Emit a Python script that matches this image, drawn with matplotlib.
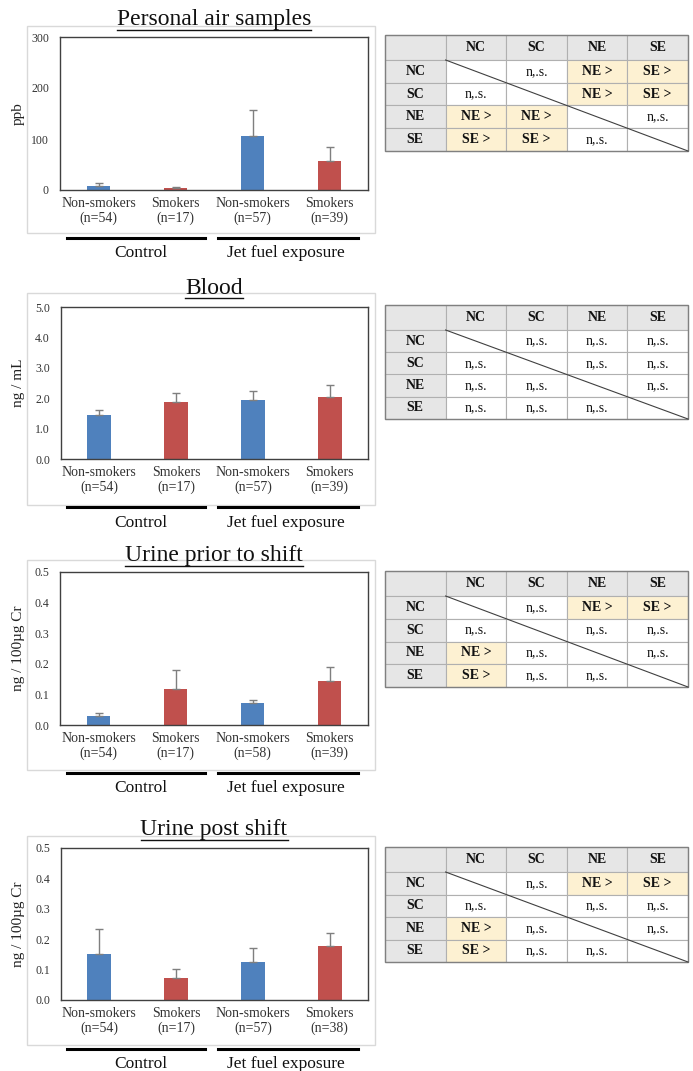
import matplotlib
matplotlib.use("Agg")
import matplotlib.pyplot as plt
from matplotlib.patches import Rectangle
from matplotlib.lines import Line2D

# ---------------- data ----------------
categories = ["Non-smokers", "Smokers", "Non-smokers", "Smokers"]
groups = ["Control", "Jet fuel exposure"]
titles = ["Personal air samples", "Blood", "Urine prior to shift", "Urine post shift"]
ylabels = ["ppb", "ng / mL", "ng / 100\u00b5g Cr", "ng / 100\u00b5g Cr"]

air_n = [54, 17, 57, 39]
air_mean = [8, 4, 106, 56]
air_err = [5, 2, 51, 28]
air_ticks = [0, 100, 200, 300]
air_ticklabels = ["0", "100", "200", "300"]

blood_n = [54, 17, 57, 39]
blood_mean = [1.46, 1.86, 1.95, 2.03]
blood_err = [0.16, 0.31, 0.29, 0.40]
blood_ticks = [0.0, 1.0, 2.0, 3.0, 4.0, 5.0]
blood_ticklabels = ["0.0", "1.0", "2.0", "3.0", "4.0", "5.0"]

urine_pre_n = [54, 17, 58, 39]
urine_pre_mean = [0.031, 0.117, 0.073, 0.143]
urine_pre_err = [0.008, 0.063, 0.009, 0.045]

urine_post_n = [54, 17, 57, 38]
urine_post_mean = [0.150, 0.072, 0.126, 0.176]
urine_post_err = [0.085, 0.030, 0.044, 0.046]

urine_ticks = [0.0, 0.1, 0.2, 0.3, 0.4, 0.5]
urine_ticklabels = ["0.0", "0.1", "0.2", "0.3", "0.4", "0.5"]

table_labels = ["NC", "SC", "NE", "SE"]
air_table = [["", "n,.s.", "NE >", "SE >"],
             ["n,.s.", "", "NE >", "SE >"],
             ["NE >", "NE >", "", "n,.s."],
             ["SE >", "SE >", "n,.s.", ""]]
blood_table = [["", "n,.s.", "n,.s.", "n,.s."],
               ["n,.s.", "", "n,.s.", "n,.s."],
               ["n,.s.", "n,.s.", "", "n,.s."],
               ["n,.s.", "n,.s.", "n,.s.", ""]]
urine_pre_table = [["", "n,.s.", "NE >", "SE >"],
                   ["n,.s.", "", "n,.s.", "n,.s."],
                   ["NE >", "n,.s.", "", "n,.s."],
                   ["SE >", "n,.s.", "n,.s.", ""]]
urine_post_table = [["", "n,.s.", "NE >", "SE >"],
                    ["n,.s.", "", "n,.s.", "n,.s."],
                    ["NE >", "n,.s.", "", "n,.s."],
                    ["SE >", "n,.s.", "n,.s.", ""]]

panels = [
    (air_n, air_mean, air_err, air_ticks, air_ticklabels, air_table),
    (blood_n, blood_mean, blood_err, blood_ticks, blood_ticklabels, blood_table),
    (urine_pre_n, urine_pre_mean, urine_pre_err, urine_ticks, urine_ticklabels, urine_pre_table),
    (urine_post_n, urine_post_mean, urine_post_err, urine_ticks, urine_ticklabels, urine_post_table),
]

# ---------------- layout (pixels) ----------------
W, H = 693, 1071
plt.rcParams['font.family'] = ['Liberation Serif', 'DejaVu Serif']
BLUE, RED = "#4f81bd", "#c0504d"
bar_colors = [BLUE, RED, BLUE, RED]

layout = [
    dict(ax=(60, 37, 368, 190), box=(27, 26, 375, 233), title_y=20, gline=238, glabel=253, table=(385, 35, 688, 151)),
    dict(ax=(61, 307, 368, 459), box=(27, 293, 375, 505), title_y=289, gline=507, glabel=523, table=(385, 305, 688, 419)),
    dict(ax=(60, 572, 368, 725), box=(27, 560, 375, 770), title_y=556, gline=773, glabel=788, table=(385, 571, 688, 687)),
    dict(ax=(61, 848, 368, 1000), box=(27, 836, 375, 1045), title_y=830, gline=1049, glabel=1064, table=(385, 847, 688, 962)),
]

fig = plt.figure(figsize=(W / 100, H / 100), dpi=100)


def fx(x):
    return x / W


def fy(y):
    return 1 - y / H


title_texts = []
for idx, ((n, mean, err, ticks, ticklabels, table), lay) in enumerate(zip(panels, layout)):
    # outer light box
    bx0, by0, bx1, by1 = lay["box"]
    fig.add_artist(Rectangle((fx(bx0), fy(by1)), fx(bx1) - fx(bx0), fy(by0) - fy(by1),
                             transform=fig.transFigure, facecolor="white",
                             edgecolor="#d9d9d9", lw=1.0, zorder=0))
    x0, y0, x1, y1 = lay["ax"]
    ax = fig.add_axes([fx(x0), fy(y1), fx(x1) - fx(x0), fy(y0) - fy(y1)])
    xs = list(range(len(categories)))
    ax.bar(xs, mean, width=0.31, color=bar_colors, zorder=2)
    ax.errorbar(xs, mean, yerr=[[0] * len(err), err], fmt="none",
                ecolor="#7f7f7f", elinewidth=1.0, capsize=3, capthick=1.0, zorder=3)
    ax.set_xlim(-0.5, 3.5)
    ax.set_ylim(ticks[0], ticks[-1])
    ax.set_yticks(ticks)
    ax.set_yticklabels(ticklabels, fontsize=8.5, color="#333333")
    ax.set_xticks(xs)
    ax.set_xticklabels([f"{c}\n(n={k})" for c, k in zip(categories, n)],
                       fontsize=10, color="#333333", linespacing=1.15)
    ax.tick_params(axis="both", length=0)
    ax.tick_params(axis="y", pad=8)
    ax.tick_params(axis="x", pad=5)
    for s in ax.spines.values():
        s.set_color("#404040")
        s.set_linewidth(1.0)
    ax.set_ylabel(ylabels[idx], fontsize=11, color="#222222")
    ax.yaxis.set_label_coords((25 - x0) / (x1 - x0), 0.5)

    # title (underlined later)
    t = fig.text(fx(214), fy(lay["title_y"]), titles[idx], ha="center", va="center",
                 fontsize=17, color="#111111")
    title_texts.append(t)

    # group lines & labels
    for (gx0, gx1, gcx), g in zip([(67, 205, 141), (218, 358, 286)], groups):
        fig.add_artist(Line2D([fx(gx0), fx(gx1)], [fy(lay["gline"])] * 2,
                              transform=fig.transFigure, color="black", lw=2.2))
        fig.text(fx(gcx), fy(lay["glabel"]), g, ha="center", va="center",
                 fontsize=12.5, color="#111111")

    # table
    tx0, ty0, tx1, ty1 = lay["table"]
    tax = fig.add_axes([fx(tx0), fy(ty1), fx(tx1) - fx(tx0), fy(ty0) - fy(ty1)])
    tax.axis("off")
    th = ty1 - ty0
    hh = 25
    rh = (th - hh) / 4
    tax.set_xlim(0, 5)
    tax.set_ylim(th, 0)
    row_edges = [0, hh] + [hh + rh * (i + 1) for i in range(4)]
    GRAY, YEL = "#e6e6e6", "#fdf1d2"
    for r in range(5):
        for c in range(5):
            ya, yb = row_edges[r], row_edges[r + 1]
            if r == 0 or c == 0:
                fc = GRAY
                txt = "" if (r == 0 and c == 0) else (table_labels[c - 1] if r == 0 else table_labels[r - 1])
                bold = True
            else:
                txt = table[r - 1][c - 1]
                bold = ">" in txt
                fc = YEL if bold else "white"
            tax.add_patch(Rectangle((c, ya), 1, yb - ya, facecolor=fc,
                                    edgecolor="#b0b0b0", lw=0.8, clip_on=False))
            if txt:
                tax.text(c + 0.5, (ya + yb) / 2, txt, ha="center", va="center",
                         fontsize=10, fontweight="bold" if bold else "normal",
                         color="#111111")
    tax.add_patch(Rectangle((0, 0), 5, th, facecolor="none", edgecolor="#808080",
                            lw=1.0, clip_on=False))
    tax.plot([1, 5], [hh, th], color="#404040", lw=0.8, clip_on=False)

# underline titles
fig.canvas.draw()
renderer = fig.canvas.get_renderer()
inv = fig.transFigure.inverted()
for t in title_texts:
    bb = t.get_window_extent(renderer=renderer)
    (ax0, ay0) = inv.transform((bb.x0, bb.y0 + 1))
    (ax1, _) = inv.transform((bb.x1, bb.y0 + 1))
    fig.add_artist(Line2D([ax0, ax1], [ay0, ay0], transform=fig.transFigure,
                          color="#111111", lw=1.0))

fig.savefig("out.png", dpi=100)
